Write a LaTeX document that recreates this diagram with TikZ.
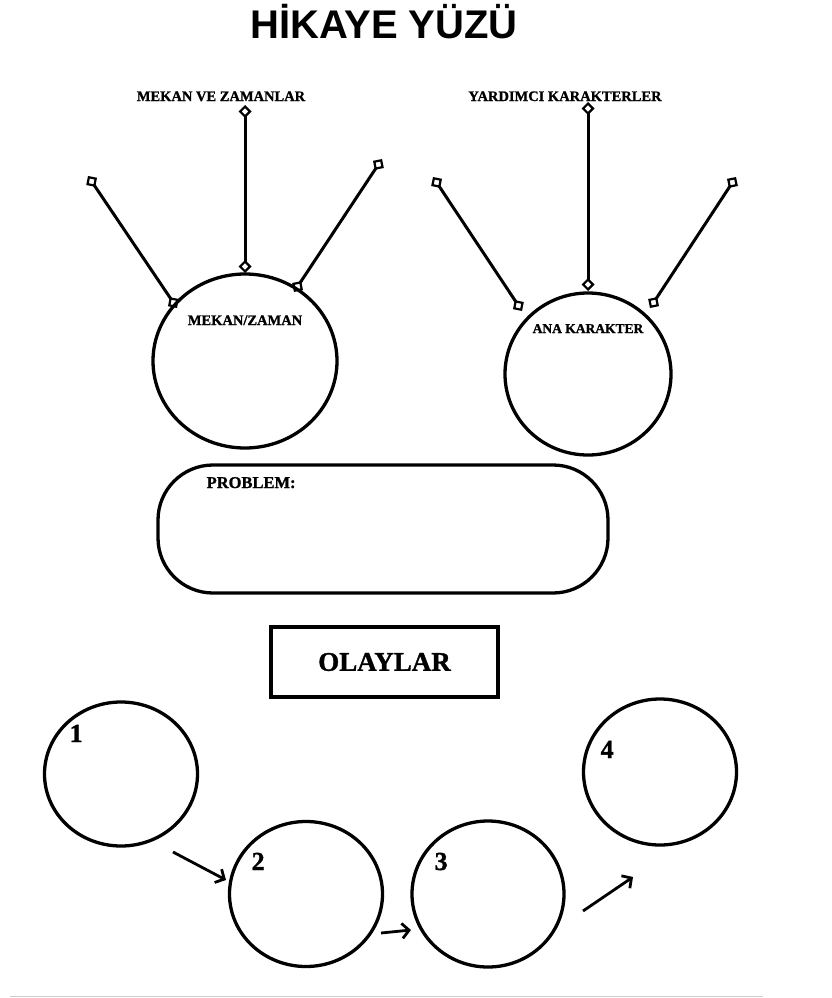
\documentclass[tikz,border=0pt]{standalone}
\usepackage{fontspec}
\setmainfont{Liberation Serif}
\newfontfamily\heavyfont{Liberation Serif}[FakeBold=1.2]
\newfontfamily\titlefont{Liberation Sans}
\usetikzlibrary{shapes.geometric,arrows.meta}

\begin{document}
\begin{tikzpicture}[x=1pt, y=-1pt, line width=3.3pt]
    \tikzstyle{every node}=[inner sep=0pt]
    \tikzstyle{bubble}=[draw, ellipse]
    \tikzstyle{spoke}=[{Diamond[open,length=13pt,width=13pt,line width=2.2pt]}-{Diamond[open,length=13pt,width=13pt,line width=2.2pt]}, line width=3pt]
    \tikzstyle{flow}=[line width=2.8pt, -{Straight Barb[length=7pt,width=15pt]}]
    \tikzstyle{headtext}=[anchor=base, font=\heavyfont\bfseries\fontsize{14.5}{18}\selectfont]
    \tikzstyle{numtext}=[anchor=base west, font=\heavyfont\bfseries\fontsize{26}{30}\selectfont]

    \fill[white] (0,0) rectangle (832,998);
    \useasboundingbox (0,0) rectangle (832,998);

% title and the two upper clusters (place/time, main character)

    \node [anchor=base, font=\titlefont\bfseries\fontsize{40}{48}\selectfont] (title) at (384,38) {HİKAYE YÜZÜ};

    \node [headtext] (mekanlar) at (221,101) {MEKAN VE ZAMANLAR};
    \node [headtext] (yardimci) at (565,101) {YARDIMCI KARAKTERLER};

    \node [bubble, minimum width=184pt, minimum height=174pt] (mekan) at (245,361) {};
    \node [headtext] (mekanlbl) at (245,325) {MEKAN/ZAMAN};
    \node [bubble, minimum width=166pt, minimum height=162pt] (karakter) at (588,374) {};
    \node [headtext, font=\heavyfont\bfseries\fontsize{13.5}{17}\selectfont] (karakterlbl) at (588,333) {ANA KARAKTER};

    \coordinate (m1) at (88,176);  \coordinate (m1e) at (177,308);
    \coordinate (m2) at (245,105); \coordinate (m2e) at (245,273);
    \coordinate (m3) at (382,159); \coordinate (m3e) at (294,292);
    \coordinate (k1) at (433,177); \coordinate (k1e) at (522,311);
    \coordinate (k2) at (588,102); \coordinate (k2e) at (588,291);
    \coordinate (k3) at (736,177); \coordinate (k3e) at (650,308);
    \foreach \s in {m1,m2,m3,k1,k2,k3}
        \draw [spoke] (\s) -- (\s e);

% problem box and the events

    \node [draw, rounded corners=55pt, minimum width=450pt, minimum height=128pt] (problem) at (383,529) {};
    \node [anchor=base west, font=\heavyfont\bfseries\fontsize{16.5}{20}\selectfont] (problemlbl) at (205,488) {PROBLEM:};

    \node [draw, line width=4pt, minimum width=227pt, minimum height=70pt, font=\heavyfont\bfseries\fontsize{27}{32}\selectfont] (olaylar) at (384.5,662) {OLAYLAR};

    \node [bubble, minimum width=153pt, minimum height=144pt] (e1) at (121,774) {};
    \node [bubble, minimum width=153pt, minimum height=145pt] (e2) at (306,894) {};
    \node [bubble, minimum width=152pt, minimum height=146pt] (e3) at (488,894) {};
    \node [bubble, minimum width=153pt, minimum height=146pt] (e4) at (660,772) {};
    \node [numtext] (n1) at (68,742) {1};
    \node [numtext] (n2) at (250,870) {2};
    \node [numtext] (n3) at (433,870) {3};
    \node [numtext] (n4) at (599,758) {4};

    \coordinate (a1) at (173,852); \coordinate (a1e) at (226,880);
    \coordinate (a2) at (381,933); \coordinate (a2e) at (411,930);
    \coordinate (a3) at (583,911); \coordinate (a3e) at (633,877);
    \foreach \a in {a1,a2,a3}
        \draw [flow] (\a) -- (\a e);

    \draw [black!20, line width=1pt] (10,996) -- (763,996);

\end{tikzpicture}
\end{document}
